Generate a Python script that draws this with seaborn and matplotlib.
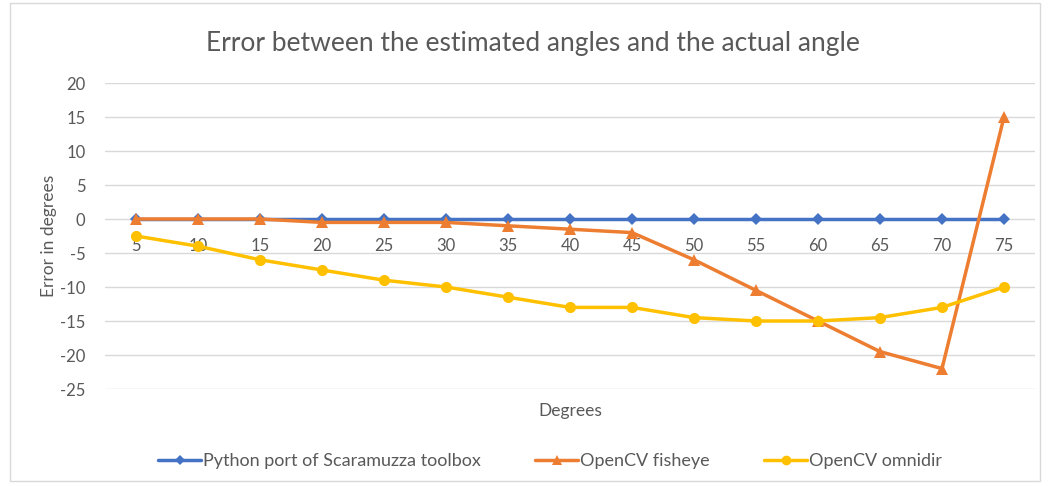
import matplotlib
matplotlib.use("Agg")
import matplotlib.pyplot as plt
import seaborn as sns
import pandas as pd
from matplotlib.patches import Rectangle

degrees = [5, 10, 15, 20, 25, 30, 35, 40, 45, 50, 55, 60, 65, 70, 75]
scaramuzza = [0, 0, 0, 0, 0, 0, 0, 0, 0, 0, 0, 0, 0, 0, 0]
fisheye = [0, 0, 0, -0.5, -0.5, -0.5, -1, -1.5, -2, -6, -10.5, -15, -19.5, -22, 15]
omnidir = [-2.5, -4, -6, -7.5, -9, -10, -11.5, -13, -13, -14.5, -15, -15, -14.5, -13, -10]
series_names = ["Python port of Scaramuzza toolbox", "OpenCV fisheye", "OpenCV omnidir"]
y_ticks = [20, 15, 10, 5, 0, -5, -10, -15, -20, -25]

sns.set_theme(style="white")
plt.rcParams['font.family'] = ['Lato', 'DejaVu Sans']
plt.rcParams['axes.unicode_minus'] = False

df = pd.concat([
    pd.DataFrame({"Degrees": degrees, "Error": scaramuzza, "Series": series_names[0]}),
    pd.DataFrame({"Degrees": degrees, "Error": fisheye, "Series": series_names[1]}),
    pd.DataFrame({"Degrees": degrees, "Error": omnidir, "Series": series_names[2]}),
])

colors = {series_names[0]: "#4472C4", series_names[1]: "#ED7D31", series_names[2]: "#FFC000"}
markers = {series_names[0]: "D", series_names[1]: "^", series_names[2]: "o"}
sizes_m = {series_names[0]: 6, series_names[1]: 8, series_names[2]: 8}

fig = plt.figure(figsize=(10.49, 4.86), dpi=100)
ax = fig.add_axes([105/1049, 1-389/486, 930/1049, 306/486])

for name in series_names:
    sub = df[df["Series"] == name]
    sns.lineplot(data=sub, x="Degrees", y="Error", ax=ax, color=colors[name],
                 marker=markers[name], markersize=sizes_m[name], markeredgewidth=0,
                 linewidth=2.5, label=name, legend=False)

ax.set_xlim(2.5, 77.5)
ax.set_ylim(-25, 20)
ax.set_yticks(y_ticks)
ax.set_yticklabels([str(t) for t in y_ticks])
ax.set_xticks(degrees)
ax.set_xticklabels([str(d) for d in degrees])
ax.yaxis.grid(True, color="#D9D9D9", linewidth=1)
ax.set_axisbelow(True)
for s in ["top", "right", "left"]:
    ax.spines[s].set_visible(False)
ax.spines["bottom"].set_position(("data", 0))
ax.spines["bottom"].set_visible(False)
ax.tick_params(axis="x", length=0, pad=14, labelsize=12, colors="#595959")
ax.tick_params(axis="y", length=0, pad=14, labelsize=12, colors="#595959")

ax.set_xlabel("Degrees", fontsize=12.5, color="#595959")
ax.xaxis.set_label_coords(0.5, -0.045)
ax.set_ylabel("Error in degrees", fontsize=12.5, color="#595959")
ax.yaxis.set_label_coords(-0.052, 0.5)

fig.text(533/1049, 1-44/486, "Error between the estimated angles and the actual angle",
         ha="center", va="center", fontsize=19, color="#595959")

handles = [plt.Line2D([], [], color=colors[n], marker=markers[n], markersize=sizes_m[n] - 1,
                      markeredgewidth=0, linewidth=2.5) for n in series_names]
fig.legend(handles, series_names, loc="center", bbox_to_anchor=(550/1049, 1-461/486),
           ncol=3, frameon=False, fontsize=13, labelcolor="#595959",
           handlelength=2.4, handletextpad=0.1, columnspacing=3.0)

fig.add_artist(Rectangle((10/1049, 5/486), 1030/1049, 478/486, transform=fig.transFigure,
                         fill=False, edgecolor="#D9D9D9", linewidth=1))

fig.savefig("out.png", dpi=100)
